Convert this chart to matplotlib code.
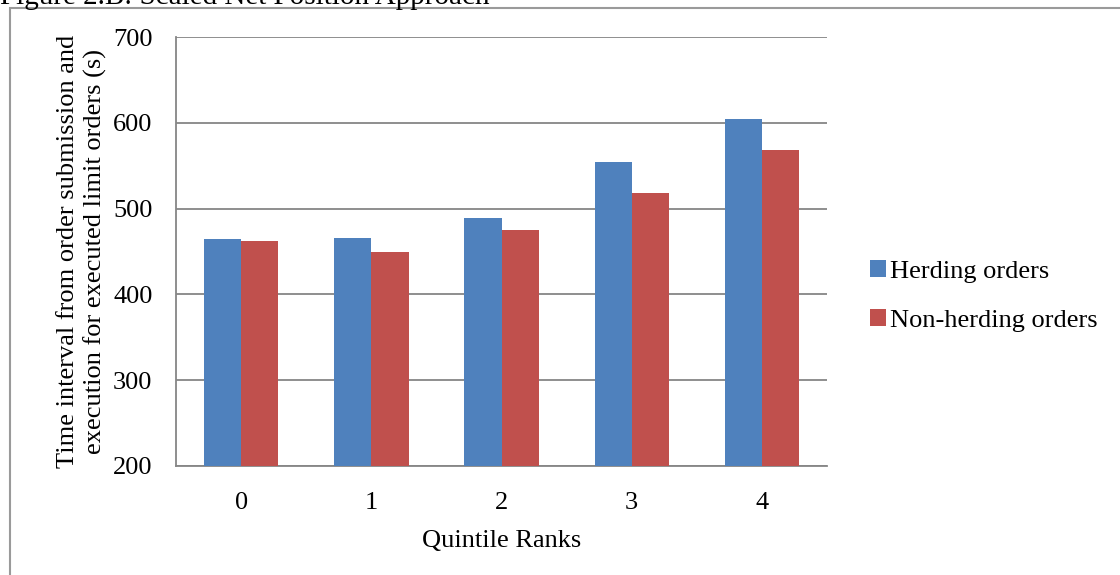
import matplotlib
matplotlib.use("Agg")
import matplotlib.pyplot as plt
import numpy as np
from matplotlib.patches import Rectangle

categories = ["0", "1", "2", "3", "4"]
herding = [464, 466, 489, 554, 604]
non_herding = [462, 450, 475, 518, 568]
series_names = ["Herding orders", "Non-herding orders"]
yticks = [200, 300, 400, 500, 600, 700]

plt.rcParams['font.family'] = ['Liberation Serif', 'DejaVu Serif']

fig = plt.figure(figsize=(11.2, 5.75), dpi=100)
W, H = 1120, 575
ax = fig.add_axes([176 / W, 1 - 466 / H, (827 - 176) / W, (466 - 37) / H])

FS = 19
x = np.arange(len(categories))
bw = 1 / 3.5
ax.bar(x - bw / 2, herding, bw, color="#4F81BD", label=series_names[0], zorder=3)
ax.bar(x + bw / 2, non_herding, bw, color="#C0504D", label=series_names[1], zorder=3)

ax.set_xlim(-0.5, 4.5)
ax.set_ylim(200, 700)
ax.set_yticks(yticks)
ax.set_xticks(x)
ax.set_xticklabels(categories)
ax.yaxis.grid(True, color="#868686", linewidth=1.3, zorder=0)
ax.set_axisbelow(True)
for s in ["top", "right"]:
    ax.spines[s].set_visible(False)
for s in ["left", "bottom"]:
    ax.spines[s].set_color("#868686")
    ax.spines[s].set_linewidth(1.3)
ax.tick_params(axis="both", length=0, labelsize=FS)
ax.tick_params(axis="x", pad=19)
ax.tick_params(axis="y", pad=17)
ax.set_xlabel("Quintile Ranks", fontsize=FS, labelpad=11)
ax.set_ylabel("Time interval from order submission and\nexecution for executed limit orders (s)",
              fontsize=FS, labelpad=4, linespacing=1.3)

ax.legend(loc="center left", bbox_to_anchor=(857 / W, 1 - 296 / H), bbox_transform=fig.transFigure,
          frameon=False, fontsize=FS, handlelength=0.6, handleheight=0.6, handletextpad=0.15,
          labelspacing=1.0, borderpad=0)

fig.patches.append(Rectangle((10 / W, -0.1), 1.2, 1 - 8 / H + 0.1, transform=fig.transFigure,
                             fill=False, edgecolor="#9a9a9a", linewidth=1.5))
fig.text(0, 1 + 16 / H, "Figure 2.B: Scaled Net Position Approach", fontsize=21, va="top", ha="left")

fig.savefig("out.png", dpi=100)
